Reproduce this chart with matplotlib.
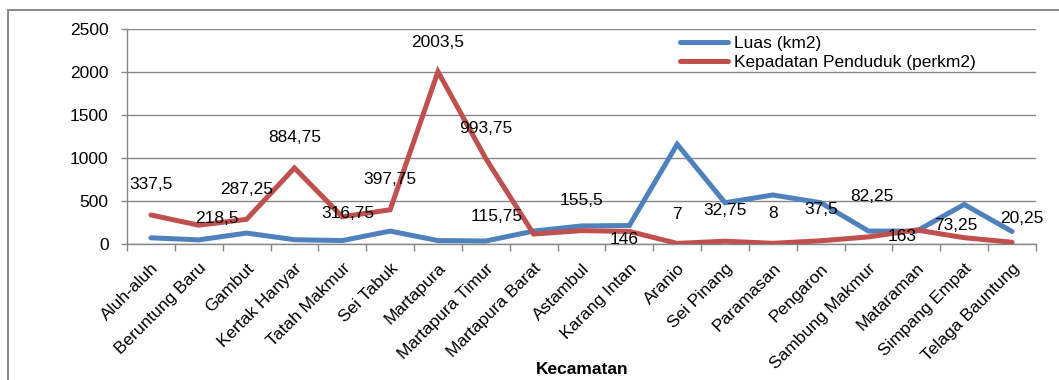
import matplotlib
matplotlib.use("Agg")
import matplotlib.pyplot as plt
from matplotlib.patches import Rectangle
import numpy as np

plt.rcParams['font.family'] = ['Liberation Sans', 'DejaVu Sans']
FS = 12.5

# Kecamatan and the two series
kecamatan = ["Aluh-aluh", "Beruntung Baru", "Gambut", "Kertak Hanyar", "Tatah Makmur",
             "Sei Tabuk", "Martapura", "Martapura Timur", "Martapura Barat", "Astambul",
             "Karang Intan", "Aranio", "Sei Pinang", "Paramasan", "Pengaron",
             "Sambung Makmur", "Mataraman", "Simpang Empat", "Telaga Bauntung"]
luas = [72, 48, 127, 50, 40, 150, 40, 35, 150, 210, 215, 1160, 480, 570, 480,
        150, 150, 460, 145]
kepadatan = [337.5, 218.5, 287.25, 884.75, 316.75, 397.75, 2003.5, 993.75, 115.75,
             155.5, 146, 7, 32.75, 8, 37.5, 82.25, 163, 73.25, 20.25]
y_ticks = [0, 500, 1000, 1500, 2000, 2500]

# label offsets (pixels, x right / y down) from each density point
label_offsets = [(0, -30), (18, -7), (0, -30), (0, -30), (6, -3), (0, -30), (0, -29),
                 (0, -30), (-37, -18), (0, -30), (-5, 8), (0, -29), (0, -31), (0, -30),
                 (1, -31), (3, -40), (-14, 7), (-8, -12), (10, -24)]

W, H = 1059, 380
fig = plt.figure(figsize=(W / 100, H / 100), dpi=100)
left, right, top, bottom = 127, 1036, 29, 244
ax = fig.add_axes([left / W, 1 - bottom / H, (right - left) / W, (bottom - top) / H])

blue = "#4F81BD"
red = "#C0504D"
grey = "#868686"

x = np.arange(len(kecamatan))
ax.plot(x, luas, color=blue, lw=3.6, label="Luas (km2)",
        solid_joinstyle='miter', solid_capstyle='round', zorder=3)
ax.plot(x, kepadatan, color=red, lw=3.6, label="Kepadatan Penduduk (perkm2)",
        solid_joinstyle='miter', solid_capstyle='round', zorder=4)

px2pt = 72 / 100
for i, (v, (dx, dy)) in enumerate(zip(kepadatan, label_offsets)):
    txt = f"{v:g}".replace('.', ',')
    ax.annotate(txt, (i, v), xytext=(dx * px2pt, -dy * px2pt), textcoords='offset points',
                ha='center', va='center', fontsize=FS, color='black', zorder=5)

ax.set_xlim(-0.5, len(kecamatan) - 0.5)
ax.set_ylim(0, 2500)
ax.set_yticks(y_ticks)
ax.set_xticks(x)
ax.set_xticks(np.arange(-0.5, len(kecamatan), 1), minor=True)
ax.set_xticklabels(kecamatan, rotation=45, ha='right', va='top', rotation_mode='anchor')
ax.tick_params(axis='x', which='major', length=0, pad=12, labelsize=FS)
ax.tick_params(axis='x', which='minor', length=5, width=1, color=grey, direction='out')
ax.tick_params(axis='y', length=4.3, width=1, color=grey, pad=9, labelsize=FS)

ax.yaxis.grid(True, color=grey, lw=1.0)
ax.set_axisbelow(True)
for s in ['top', 'right']:
    ax.spines[s].set_visible(False)
for s in ['left', 'bottom']:
    ax.spines[s].set_color(grey)
    ax.spines[s].set_linewidth(1.0)

fig.text(582 / W, 1 - 370 / H, "Kecamatan", ha='center', va='center',
         fontsize=FS, fontweight='bold')

fig.legend(loc='upper left', bbox_to_anchor=(671 / W, 1 - 27 / H), frameon=False,
           borderpad=0, handlelength=2.8, handletextpad=0.35, labelspacing=0.25,
           fontsize=FS)

# chart frame
fig.patches.append(Rectangle((8 / W, -0.2), 1.5, 1 - 10 / H + 0.2,
                             transform=fig.transFigure, fill=False,
                             edgecolor="#8c8c8c", lw=1.5))

fig.savefig("out.png", dpi=100)
